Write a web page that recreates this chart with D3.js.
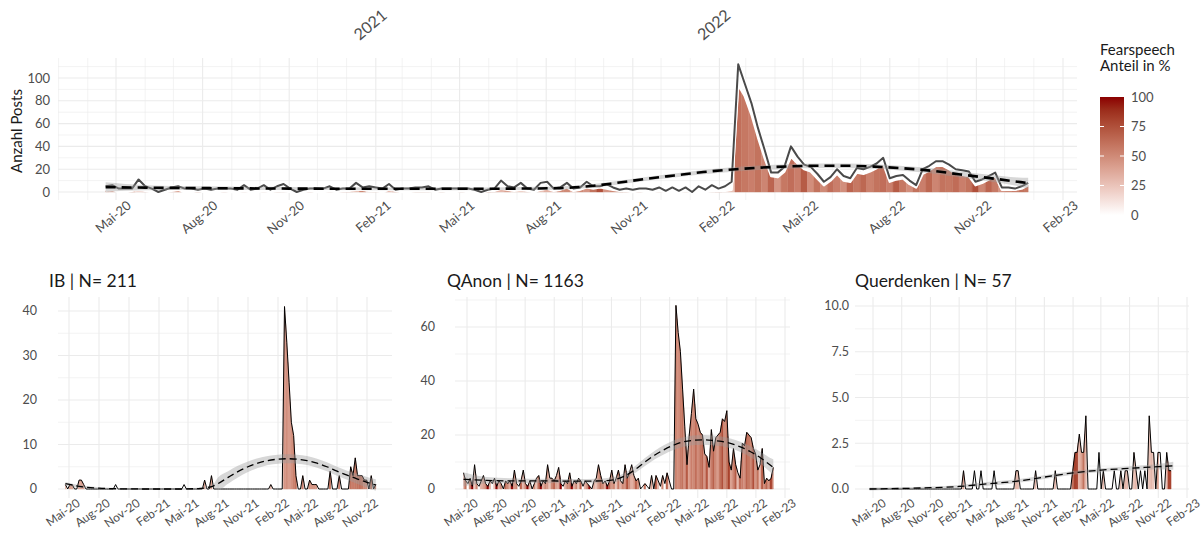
<!DOCTYPE html>
<html><head><meta charset="utf-8">
<script src="https://d3js.org/d3.v7.min.js"></script>
<style>
html,body{margin:0;padding:0;background:#fff;}
svg text{font-family:Lato,"Noto Sans",sans-serif;}
</style></head>
<body>
<svg id="chart" width="1204" height="536"></svg>
<script>
// ---------------- DATA (weekly, Mondays from 2020-04-20) ----------------
const weekFirst = "2020-04-20";
const weekStop = "2022-12-27";

const tickDates = ["2020-05-01","2020-08-01","2020-11-01","2021-02-01","2021-05-01","2021-08-01","2021-11-01","2022-02-01","2022-05-01","2022-08-01","2022-11-01","2023-02-01"];
const tickLabels = ["Mai-20","Aug-20","Nov-20","Feb-21","Mai-21","Aug-21","Nov-21","Feb-22","Mai-22","Aug-22","Nov-22","Feb-23"];
const yearDates = ["2021-01-01","2022-01-01"];
const yearLabels = ["2021","2022"];

// Top panel: all posts (grey line) and fearspeech posts (filled area)
const totalPosts = [5,6,3,3,3,11,5,3,0,2,
 4,5,3,3,2,3,2,3,3,3,
 2,6,2,3,6,2,5,7,3,0,
 2,3,3,3,5,2,3,3,8,4,
 5,4,3,7,2,3,3,4,4,5,
 2,3,3,3,3,3,2,0,2,3,
 10,5,4,8,3,2,8,9,3,4,
 8,3,4,9,5,5,7,4,2,3,
 2,3,3,2,4,1,4,1,4,0,
 5,2,6,3,5,9,112,95,78,56,
 37,17,17,22,40,31,24,22,16,9,
 13,20,14,12,21,20,22,25,30,12,
 14,15,10,6,20,23,27,27,24,20,
 19,18,9,11,14,17,4,4,3,5,
 8];
const fearPosts = [1,2,0,0,1,2,1,0,0,0,
 1,2,0,0,1,0,0,0,1,0,
 0,1,0,0,1,0,1,1,0,0,
 0,1,0,0,1,0,1,1,2,2,
 1,1,0,2,1,0,0,1,1,1,
 0,1,0,0,1,0,0,0,1,1,
 3,2,1,2,1,0,2,3,1,2,
 4,1,2,4,3,4,3,2,1,1,
 0,1,0,0,1,0,0,0,1,0,
 0,0,1,1,1,2,94,84,68,48,
 30,14,13,18,31,25,20,18,12,6,
 10,16,10,9,17,16,18,21,25,9,
 11,12,7,4,16,19,23,23,20,16,
 15,14,6,8,11,14,2,2,2,3,
 6];
const totalShare = [40,30,0,0,50,20,30,0,0,0,
 30,40,0,0,50,0,0,0,30,0,
 0,20,0,0,20,0,25,15,0,0,
 0,35,0,0,20,0,30,35,25,50,
 20,25,0,30,50,0,0,25,25,20,
 0,35,0,0,30,0,0,0,50,35,
 30,40,25,25,35,0,25,33,30,50,
 50,35,50,45,60,75,45,50,50,35,
 0,35,0,0,25,0,0,0,25,0,
 0,0,20,35,20,25,62,58,55,60,
 52,66,45,58,62,55,70,48,60,50,
 62,55,48,66,58,65,54,60,62,55,
 70,58,48,60,55,65,52,60,58,63,
 55,60,75,52,66,57,45,50,55,60,
 58];

// IB
const ibPosts = [1,0,1,1,0,0,2,2,1,0,
 0,0,0,0,0,0,0,0,0,0,
 0,0,1,0,0,0,0,0,0,0,
 0,0,0,0,0,0,0,0,0,0,
 0,0,0,0,0,0,0,0,0,0,
 0,0,1,0,0,0,0,0,0,0,
 0,2,0,0,3,0,0,0,0,0,
 0,0,0,0,0,0,0,0,0,0,
 0,0,0,0,0,0,0,0,0,0,
 1,0,0,0,0,0,41,33,24,15,
 12,3,0,0,3,0,0,2,1,1,
 1,0,0,0,0,0,4,0,0,0,
 3,0,0,0,0,5,3,7,3,3,
 3,2,2,0,3,0,1];
const ibShare = [40,0,40,40,0,0,35,40,40,0,
 0,0,0,0,0,0,0,0,0,0,
 0,0,0,0,0,0,0,0,0,0,
 0,0,0,0,0,0,0,0,0,0,
 0,0,0,0,0,0,0,0,0,0,
 0,0,0,0,0,0,0,0,0,0,
 0,40,0,0,40,0,0,0,0,0,
 0,0,0,0,0,0,0,0,0,0,
 0,0,0,0,0,0,0,0,0,0,
 30,0,0,0,0,0,45,48,42,47,
 54,60,0,0,55,0,0,50,45,45,
 45,0,0,0,0,0,60,0,0,0,
 55,0,0,0,0,60,55,57,60,62,
 58,50,50,0,60,0,55];

// QAnon
const qanonPosts = [6,3,2,4,1,9,2,1,3,5,
 2,1,3,2,4,1,3,2,0,3,
 2,3,1,7,2,1,3,7,2,1,
 3,0,2,4,5,1,3,2,9,4,
 4,3,5,8,2,1,3,2,6,1,
 3,2,4,3,1,3,2,1,0,3,
 4,9,5,2,3,1,3,7,2,4,
 7,3,2,9,4,6,9,5,3,4,
 0,1,2,1,0,5,0,5,3,1,
 5,2,6,3,0,0,68,58,51,37,
 23,9,20,28,37,26,24,21,20,13,
 12,8,22,14,19,20,21,26,25,29,
 10,7,15,9,6,4,17,16,21,20,
 19,15,13,7,9,15,2,4,3,4,
 8];
const qanonShare = [35,60,0,50,100,22,50,0,33,40,
 50,100,33,0,25,100,33,50,0,67,
 50,33,100,43,50,0,67,29,50,100,
 33,0,50,25,60,100,33,50,44,25,
 50,67,40,38,100,0,33,50,50,100,
 33,50,25,67,0,33,50,100,0,33,
 25,44,60,50,33,100,67,43,50,25,
 57,33,50,44,75,50,33,40,67,50,
 0,0,60,0,0,40,0,70,30,0,
 50,0,65,20,0,0,52,47,55,60,
 45,70,40,55,50,62,48,58,66,45,
 72,35,55,68,50,42,60,75,50,58,
 80,40,53,70,30,62,55,48,66,58,
 52,75,45,60,30,70,50,65,45,80,
 55];

// Querdenken
const qdPosts = [0,0,0,0,0,0,0,0,0,0,
 0,0,0,0,0,0,0,0,0,0,
 0,0,0,0,0,0,0,0,0,0,
 0,0,0,0,0,0,0,0,0,0,
 0,0,0,1,0,0,0,0,1,0,
 0,1,0,0,0,0,0,1,0,0,
 0,0,0,0,0,0,0,1,1,0,
 0,0,0,0,0,0,1,0,0,0,
 0,0,0,0,0,1,0,0,0,0,
 0,0,0,1,2,2,3,2,2,4,
 0,0,0,0,0,2,0,1,0,0,
 0,0,1,0,0,1,0,1,1,0,
 0,2,1,0,1,0,1,0,4,2,
 2,0,2,2,0,0,2,1,1];
const qdShare = [0,0,0,0,0,0,0,0,0,0,
 0,0,0,0,0,0,0,0,0,0,
 0,0,0,0,0,0,0,0,0,0,
 0,0,0,0,0,0,0,0,0,0,
 0,0,0,40,0,0,0,0,0,0,
 0,0,0,0,0,0,0,0,0,0,
 0,0,0,0,0,0,0,30,30,0,
 0,0,0,0,0,0,30,0,0,0,
 0,0,0,0,0,30,0,0,0,0,
 0,0,0,60,80,80,30,40,60,30,
 0,0,0,0,0,0,0,30,0,0,
 0,0,0,0,0,30,0,30,30,0,
 0,25,30,0,0,0,0,0,25,30,
 25,0,40,0,0,0,25,80,80];

// Smoothed trends (fit and half-width of the confidence band)
const totalSmoothDates = ["2020-04-20","2020-06-01","2020-08-01","2020-11-01","2021-02-01","2021-05-01","2021-07-01","2021-08-15","2021-09-15","2021-10-15","2021-11-15","2021-12-15","2022-01-15","2022-02-15","2022-03-15","2022-04-15","2022-05-15","2022-06-15","2022-07-15","2022-08-15","2022-09-15","2022-10-15","2022-11-15","2022-12-15","2022-12-26"];
const totalSmoothFit = [4.3,3.8,3.4,3.0,2.8,2.8,3.0,3.4,5.0,8.0,11.5,14.5,17.5,19.8,21.3,22.4,23.0,23.0,22.3,20.8,18.6,15.4,12.2,9.0,7.8];
const totalSmoothSe = [4.2,2.2,1.6,1.3,1.2,1.2,1.3,1.4,1.5,1.6,1.7,1.8,1.9,2.0,2.0,2.0,2.0,2.0,2.0,2.1,2.3,2.6,3.0,3.8,4.8];

const ibSmoothDates = ["2020-04-20","2020-06-01","2020-08-01","2020-10-01","2021-01-01","2021-04-01","2021-06-01","2021-07-15","2021-08-01","2021-09-01","2021-10-01","2021-11-01","2021-12-01","2022-01-01","2022-02-01","2022-03-01","2022-04-01","2022-05-01","2022-06-01","2022-07-01","2022-08-01","2022-09-01","2022-10-01","2022-11-01","2022-11-28"];
const ibSmoothFit = [1.2,0.6,0.2,0.05,0,0,0.1,0.6,1.2,2.6,3.9,5.0,5.8,6.4,6.7,6.8,6.7,6.4,5.8,5.0,4.0,3.1,2.3,1.5,0.9];
const ibSmoothSe = [0.4,0.3,0.2,0.15,0.15,0.15,0.2,0.3,1.4,1.4,1.3,1.2,1.1,1.0,1.0,1.0,1.0,1.0,1.0,1.0,1.0,1.0,1.1,1.2,1.3];

const qanonSmoothDates = ["2020-04-20","2020-07-01","2020-10-01","2021-01-01","2021-04-01","2021-07-01","2021-08-15","2021-09-15","2021-10-15","2021-11-15","2021-12-15","2022-01-15","2022-02-15","2022-03-15","2022-04-15","2022-05-15","2022-06-15","2022-07-15","2022-08-15","2022-09-15","2022-10-15","2022-11-15","2022-12-15","2022-12-26"];
const qanonSmoothFit = [3.6,3.2,3.0,3.0,2.9,3.0,3.6,5.0,7.2,10.0,12.5,14.6,16.3,17.4,18.0,18.2,18.0,17.6,16.8,15.5,13.8,11.6,9.0,8.0];
const qanonSmoothSe = [2.6,1.2,0.9,0.8,0.8,0.9,1.0,1.1,1.3,1.5,1.6,1.7,1.8,1.8,1.8,1.8,1.8,1.8,1.8,1.9,2.0,2.2,2.6,3.0];

const qdSmoothDates = ["2020-04-20","2020-08-01","2020-11-01","2021-02-01","2021-05-01","2021-08-01","2021-11-01","2022-02-01","2022-05-01","2022-08-01","2022-11-01","2022-12-19"];
const qdSmoothFit = [0,0.03,0.07,0.14,0.28,0.42,0.65,0.88,1.03,1.13,1.22,1.27];
const qdSmoothSe = [0.08,0.07,0.07,0.08,0.1,0.1,0.1,0.1,0.1,0.12,0.15,0.22];

const legendTicks = [0,25,50,75,100];

// ---------------- RENDERING ----------------
const parse = d3.timeParse("%Y-%m-%d");
const weeks = d3.timeMonday.range(parse(weekFirst), parse(weekStop));
const fillColor = d3.scaleLinear().domain([0,100]).range(["#ffffff","#8b0000"]).interpolate(d3.interpolateLab);
const svg = d3.select("#chart");
const GRID = "#ebebeb", AXIS_TXT = "#4d4d4d", TITLE = "#1a1a1a";
let clipCount = 0;

function panel(cfg){
  const x = d3.scaleTime().domain(cfg.xAnchor.map(parse)).range(cfg.xAnchorPx);
  const y = d3.scaleLinear().domain(cfg.yAnchor).range(cfg.yAnchorPx);
  const L = cfg.left, R = cfg.right, T = cfg.top, B = cfg.bottom;
  const g = svg.append("g");
  g.append("g").selectAll("line").data(cfg.yMinor).join("line")
    .attr("x1",L).attr("x2",R).attr("y1",d=>y(d)).attr("y2",d=>y(d))
    .attr("stroke",GRID).attr("stroke-width",0.6);
  g.append("g").selectAll("line").data(cfg.yTicks).join("line")
    .attr("x1",L).attr("x2",R).attr("y1",d=>y(d)).attr("y2",d=>y(d))
    .attr("stroke",GRID).attr("stroke-width",1.1);
  const ticks = tickDates.map((d,i)=>({d:parse(d), label:tickLabels[i]}))
    .filter(t=>x(t.d)>=L-0.5 && x(t.d)<=R+0.5);
  if(cfg.monthly){
    const months = d3.timeMonth.range(d3.timeMonth.ceil(x.invert(L)), x.invert(R))
      .filter(m=>!ticks.some(t=>+t.d===+m));
    g.append("g").selectAll("line").data(months).join("line")
      .attr("x1",d=>x(d)).attr("x2",d=>x(d)).attr("y1",T).attr("y2",B)
      .attr("stroke",GRID).attr("stroke-width",0.6);
  }
  g.append("g").selectAll("line").data(ticks).join("line")
    .attr("x1",d=>x(d.d)).attr("x2",d=>x(d.d)).attr("y1",T).attr("y2",B)
    .attr("stroke",GRID).attr("stroke-width",1.1);

  g.append("g").selectAll("text").data(cfg.yTicks).join("text")
    .attr("x",cfg.yLabelX).attr("y",d=>y(d)).attr("dy","0.35em")
    .attr("text-anchor","end").attr("fill",AXIS_TXT).attr("font-size",cfg.yFs)
    .text(d=>cfg.yFmt(d));
  g.append("g").selectAll("text").data(ticks).join("text")
    .attr("transform",d=>`translate(${x(d.d)+cfg.xLabDx},${cfg.xLabY}) rotate(${cfg.xAngle})`)
    .attr("text-anchor","end").attr("fill",AXIS_TXT).attr("font-size",cfg.xFs)
    .text(d=>d.label);

  const cid = "clip"+(clipCount++);
  svg.append("clipPath").attr("id",cid).append("rect")
    .attr("x",L).attr("y",T).attr("width",R-L).attr("height",B-T);
  const p = g.append("g").attr("clip-path",`url(#${cid})`);
  const y0 = y(0);

  const fv = cfg.fillValues, fs = cfg.fillShare;
  const pts = fv.map((v,i)=>({d:weeks[i], v:v, s:fs[i]}));
  const strip = pts.map((pt,i)=>{
    const xi = x(pt.d), yi = y(pt.v);
    const pr = pts[i-1], nx = pts[i+1];
    const xl = pr ? (x(pr.d)+xi)/2 : xi, yl = pr ? (y(pr.v)+yi)/2 : yi;
    const xr = nx ? (x(nx.d)+xi)/2 : xi, yr = nx ? (y(nx.v)+yi)/2 : yi;
    const maxv = Math.max(pt.v, pr?pr.v:0, nx?nx.v:0);
    return {path:`M${xl},${y0}L${xl},${yl}L${xi},${yi}L${xr},${yr}L${xr},${y0}Z`, c:fillColor(pt.s), show:maxv>0};
  }).filter(s=>s.show);
  p.append("g").selectAll("path").data(strip).join("path")
    .attr("d",d=>d.path).attr("fill",d=>d.c).attr("stroke",d=>d.c).attr("stroke-width",0.4);

  const line = d3.line().x(d=>x(d.d)).y(d=>y(d.v));
  if(cfg.fillOutline){
    p.append("path").datum(pts).attr("d",line).attr("fill","none")
      .attr("stroke","#ffffff").attr("stroke-width",2.4).attr("stroke-linejoin","round");
  }
  const lp = cfg.lineValues.map((v,i)=>({d:weeks[i], v:v}));
  if(cfg.lineHalo){
    p.append("path").datum(lp).attr("d",line).attr("fill","none")
      .attr("stroke","#ffffff").attr("stroke-width",cfg.lineHalo).attr("stroke-linejoin","round");
  }
  p.append("path").datum(lp).attr("d",line).attr("fill","none")
    .attr("stroke",cfg.lineColor).attr("stroke-width",cfg.lineWidth).attr("stroke-linejoin","round");

  const sm = cfg.smDates.map((d,i)=>({d:parse(d), f:cfg.smFit[i], s:cfg.smSe[i]}));
  const band = d3.area().curve(d3.curveMonotoneX).x(d=>x(d.d)).y0(d=>y(d.f-d.s)).y1(d=>y(d.f+d.s));
  p.append("path").datum(sm).attr("d",band).attr("fill","#9a9a9a").attr("fill-opacity",0.4);
  const fit = d3.line().curve(d3.curveMonotoneX).x(d=>x(d.d)).y(d=>y(d.f));
  p.append("path").datum(sm).attr("d",fit).attr("fill","none").attr("stroke","#000")
    .attr("stroke-width",cfg.dashWidth).attr("stroke-dasharray",cfg.dash);

  if(cfg.title){
    svg.append("text").attr("x",cfg.titleX).attr("y",287).attr("fill",TITLE)
      .attr("font-size",17.5).text(cfg.title);
  }
  return {x:x, y:y};
}

const fmt0 = d=>d3.format("d")(d);
const mainPanel = panel({left:58,right:1077,top:58,bottom:200,
  xAnchor:["2020-05-01","2023-02-01"], xAnchorPx:[116,1063],
  yAnchor:[0,100], yAnchorPx:[192,78],
  yTicks:[0,20,40,60,80,100], yMinor:[10,30,50,70,90,110], yFmt:fmt0, yLabelX:50, yFs:13,
  monthly:true, xLabDx:16, xLabY:207, xAngle:-40, xFs:13,
  fillValues:fearPosts, fillShare:totalShare, fillOutline:true,
  lineValues:totalPosts, lineColor:"#4a4a4a", lineWidth:2, lineHalo:4,
  smDates:totalSmoothDates, smFit:totalSmoothFit, smSe:totalSmoothSe, dashWidth:2.6, dash:"10,6"});

panel({left:58,right:392,top:297,bottom:498,
  xAnchor:["2020-05-01","2022-11-01"], xAnchorPx:[69,367],
  yAnchor:[0,40], yAnchorPx:[489,311],
  yTicks:[0,10,20,30,40], yMinor:[5,15,25,35], yFmt:fmt0, yLabelX:37, yFs:12.5,
  monthly:false, xLabDx:12, xLabY:505, xAngle:-35, xFs:12,
  fillValues:ibPosts, fillShare:ibShare, fillOutline:false,
  lineValues:ibPosts, lineColor:"#000", lineWidth:1,
  smDates:ibSmoothDates, smFit:ibSmoothFit, smSe:ibSmoothSe, dashWidth:1.3, dash:"7,4",
  title:"IB | N= 211", titleX:49});

panel({left:455,right:790,top:297,bottom:498,
  xAnchor:["2020-05-01","2023-02-01"], xAnchorPx:[467,785],
  yAnchor:[0,60], yAnchorPx:[489,327],
  yTicks:[0,20,40,60], yMinor:[10,30,50,70], yFmt:fmt0, yLabelX:435, yFs:12.5,
  monthly:false, xLabDx:12, xLabY:505, xAngle:-35, xFs:12,
  fillValues:qanonPosts, fillShare:qanonShare, fillOutline:false,
  lineValues:qanonPosts, lineColor:"#000", lineWidth:1,
  smDates:qanonSmoothDates, smFit:qanonSmoothFit, smSe:qanonSmoothSe, dashWidth:1.3, dash:"7,4",
  title:"QAnon | N= 1163", titleX:447});

panel({left:855,right:1189,top:297,bottom:498,
  xAnchor:["2020-05-01","2023-02-01"], xAnchorPx:[873,1187],
  yAnchor:[0,10], yAnchorPx:[489,306],
  yTicks:[0,2.5,5,7.5,10], yMinor:[1.25,3.75,6.25,8.75], yFmt:d3.format(".1f"), yLabelX:849, yFs:12.5,
  monthly:false, xLabDx:14, xLabY:505, xAngle:-35, xFs:12,
  fillValues:qdPosts, fillShare:qdShare, fillOutline:false,
  lineValues:qdPosts, lineColor:"#000", lineWidth:1,
  smDates:qdSmoothDates, smFit:qdSmoothFit, smSe:qdSmoothSe, dashWidth:1.3, dash:"7,4",
  title:"Querdenken | N= 57", titleX:855});

svg.append("g").selectAll("text").data(yearDates.map((d,i)=>({d:parse(d), t:yearLabels[i]}))).join("text")
  .attr("transform",d=>`translate(${mainPanel.x(d.d)+13},41) rotate(-40)`)
  .attr("fill",AXIS_TXT).attr("font-size",16).text(d=>d.t);

svg.append("text").attr("transform","translate(22,131) rotate(-90)")
  .attr("text-anchor","middle").attr("fill",TITLE).attr("font-size",15).text("Anzahl Posts");

const defs = svg.append("defs");
const grad = defs.append("linearGradient").attr("id","lg").attr("x1",0).attr("x2",0).attr("y1",1).attr("y2",0);
d3.range(0,101,10).forEach(v=>grad.append("stop").attr("offset",v+"%").attr("stop-color",fillColor(v)));
const ly = d3.scaleLinear().domain([0,100]).range([215,97]);
svg.append("rect").attr("x",1100).attr("y",ly(100)).attr("width",24).attr("height",ly(0)-ly(100)).attr("fill","url(#lg)");
svg.append("g").selectAll("g").data(legendTicks.filter(v=>v>0&&v<100)).join("g").each(function(v){
  d3.select(this).append("line").attr("x1",1100).attr("x2",1104).attr("y1",ly(v)).attr("y2",ly(v)).attr("stroke","#fff").attr("stroke-width",1);
  d3.select(this).append("line").attr("x1",1120).attr("x2",1124).attr("y1",ly(v)).attr("y2",ly(v)).attr("stroke","#fff").attr("stroke-width",1);
});
svg.append("g").selectAll("text").data(legendTicks).join("text")
  .attr("x",1131).attr("y",d=>ly(d)).attr("dy","0.35em").attr("fill",AXIS_TXT).attr("font-size",13).text(d=>d);
svg.append("text").attr("x",1100).attr("y",55).attr("fill",TITLE).attr("font-size",15).text("Fearspeech");
svg.append("text").attr("x",1100).attr("y",71).attr("fill",TITLE).attr("font-size",15).text("Anteil in %");
</script>
</body></html>
